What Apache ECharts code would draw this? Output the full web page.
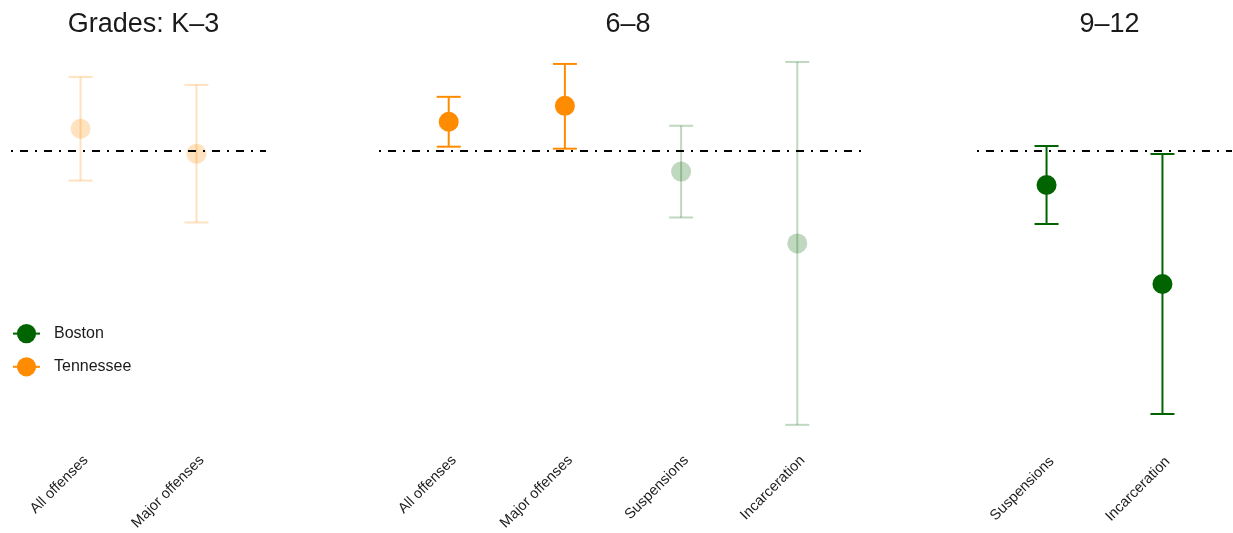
<!DOCTYPE html>
<html>
<head>
<meta charset="utf-8">
<script src="https://cdn.jsdelivr.net/npm/echarts@6/dist/echarts.min.js"></script>
<style>
  html, body { margin: 0; padding: 0; background: #fff; }
  #chart { width: 1233px; height: 533px; }
</style>
</head>
<body>
<div id="chart"></div>
<script>
// Effect estimates with confidence intervals, by grade band and outcome.
const panelTitles = ['Grades: K–3', '6–8', '9–12'];

const k3Outcomes = ['All offenses', 'Major offenses'];
const k3Sites = ['Tennessee', 'Tennessee'];
const k3Estimate = [0.22, -0.03];
const k3Lower = [-0.30, -0.72];
const k3Upper = [0.74, 0.66];

const g68Outcomes = ['All offenses', 'Major offenses', 'Suspensions', 'Incarceration'];
const g68Sites = ['Tennessee', 'Tennessee', 'Boston', 'Boston'];
const g68Estimate = [0.29, 0.45, -0.21, -0.93];
const g68Lower = [0.04, 0.02, -0.67, -2.75];
const g68Upper = [0.54, 0.87, 0.25, 0.89];

const g912Outcomes = ['Suspensions', 'Incarceration'];
const g912Sites = ['Boston', 'Boston'];
const g912Estimate = [-0.34, -1.33];
const g912Lower = [-0.73, -2.63];
const g912Upper = [0.05, -0.03];

const siteNames = ['Boston', 'Tennessee'];

// ---- styling ----
const siteColors = { Boston: '#006400', Tennessee: '#FF8C00' };
// site shown muted within each panel
const mutedSite = ['Tennessee', 'Boston', null];
const mutedOpacity = 0.25;
const FONT = '"Liberation Sans", Arial, Helvetica, sans-serif';
const gridBoxes = [
  { left: 11, width: 255 },
  { left: 379, width: 488 },
  { left: 977, width: 255 }
];
const Y_MIN = -2.93, Y_MAX = 1.07;

const panels = [
  { outcomes: k3Outcomes, sites: k3Sites, est: k3Estimate, lo: k3Lower, hi: k3Upper },
  { outcomes: g68Outcomes, sites: g68Sites, est: g68Estimate, lo: g68Lower, hi: g68Upper },
  { outcomes: g912Outcomes, sites: g912Sites, est: g912Estimate, lo: g912Lower, hi: g912Upper }
];

const grid = [], xAxis = [], yAxis = [], series = [], title = [];

panels.forEach((p, pi) => {
  const n = p.outcomes.length;
  const box = gridBoxes[pi];
  grid.push({ left: box.left, width: box.width, top: 44, height: 400 });
  xAxis.push({
    type: 'value', gridIndex: pi, min: 0.4, max: n + 0.6,
    splitLine: { show: false }, axisLine: { show: false }, axisTick: { show: false },
    axisLabel: {
      customValues: p.outcomes.map((_, i) => i + 1),
      formatter: v => p.outcomes[Math.round(v) - 1] || '',
      rotate: 45, margin: 10, verticalAlign: 'top',
      fontSize: 14.6, color: '#1a1a1a', fontFamily: FONT
    }
  });
  yAxis.push({
    type: 'value', gridIndex: pi, min: Y_MIN, max: Y_MAX, show: false,
    splitLine: { show: false }
  });
  title.push({
    text: panelTitles[pi], left: box.left + box.width / 2, top: 6, textAlign: 'center',
    textStyle: { fontSize: 27, fontWeight: 'normal', color: '#1a1a1a', fontFamily: FONT }
  });

  let first = true;
  siteNames.forEach(site => {
    const idx = p.sites.map((s, i) => s === site ? i : -1).filter(i => i >= 0);
    if (!idx.length) return;
    const color = siteColors[site];
    const opacity = mutedSite[pi] === site ? mutedOpacity : 1;
    const bars = {
      type: 'custom', name: site + ' ' + panelTitles[pi] + ' CI',
      xAxisIndex: pi, yAxisIndex: pi, silent: true,
      data: idx.map(i => [i + 1, p.lo[i], p.hi[i]]),
      renderItem: (params, api) => {
        const x = api.value(0);
        const top = api.coord([x, api.value(2)]);
        const bot = api.coord([x, api.value(1)]);
        const half = 12;
        const style = { stroke: color, lineWidth: 2, opacity: opacity };
        return {
          type: 'group',
          children: [
            { type: 'line', shape: { x1: top[0], y1: top[1], x2: bot[0], y2: bot[1] }, style },
            { type: 'line', shape: { x1: top[0] - half, y1: top[1], x2: top[0] + half, y2: top[1] }, style },
            { type: 'line', shape: { x1: bot[0] - half, y1: bot[1], x2: bot[0] + half, y2: bot[1] }, style }
          ]
        };
      },
      z: 2
    };
    if (first) {
      bars.markLine = {
        silent: true, symbol: ['none', 'none'], label: { show: false },
        lineStyle: { color: '#000', type: [2, 7, 8, 7], width: 2, opacity: 1 },
        emphasis: { disabled: true },
        data: [{ yAxis: 0 }]
      };
      first = false;
    }
    series.push(bars);
    series.push({
      type: 'scatter', name: site + ' ' + panelTitles[pi],
      xAxisIndex: pi, yAxisIndex: pi, silent: true,
      symbol: 'circle', symbolSize: 20,
      itemStyle: { color: color, opacity: opacity },
      data: idx.map(i => [i + 1, p.est[i]]),
      z: 3
    });
  });
});

// legend entries
siteNames.forEach(site => {
  series.push({
    type: 'line', name: site, xAxisIndex: 0, yAxisIndex: 0, data: [],
    symbol: 'circle', symbolSize: 20,
    itemStyle: { color: siteColors[site] },
    lineStyle: { color: siteColors[site], width: 1.5 }
  });
});

const chart = echarts.init(document.getElementById('chart'), null, { renderer: 'canvas' });
chart.setOption({
  animation: false,
  backgroundColor: '#fff',
  title: title,
  grid: grid,
  xAxis: xAxis,
  yAxis: yAxis,
  legend: {
    data: siteNames, orient: 'vertical', left: 7, top: 319,
    itemWidth: 27, itemHeight: 24, itemGap: 14,
    textStyle: { fontSize: 16, color: '#1a1a1a', fontFamily: FONT, padding: [0, 0, 0, 9] },
    selectedMode: false
  },
  series: series
});
</script>
</body>
</html>
